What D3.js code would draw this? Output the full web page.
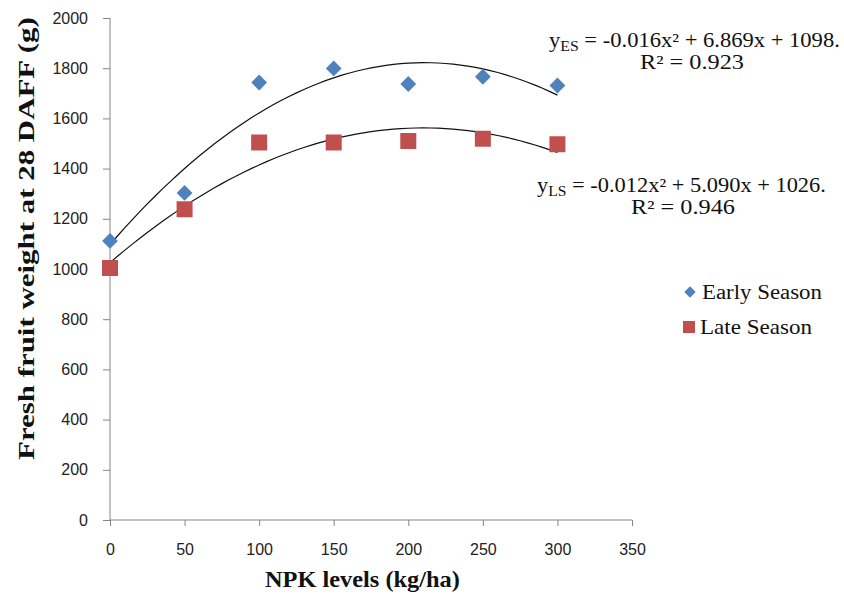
<!DOCTYPE html>
<html>
<head>
<meta charset="utf-8">
<script src="https://cdn.jsdelivr.net/npm/d3@7"></script>
<style>
  body { margin: 0; background: #fff; }
  .tick text { font-family: "Liberation Sans", Arial, sans-serif; font-size: 16px; fill: #222; }
  .axis path, .axis line { stroke: #868686; }
  .serif { font-family: "Liberation Serif", "Times New Roman", serif; fill: #111; }
</style>
</head>
<body>
<script>
'use strict'

var npkLevels = [0, 50, 100, 150, 200, 250, 300]
var earlySeason = [1112, 1303, 1743, 1799, 1737, 1766, 1731]
var lateSeason = [1004, 1238, 1504, 1504, 1510, 1519, 1497]
var xTicks = [0, 50, 100, 150, 200, 250, 300, 350]
var yTicks = [0, 200, 400, 600, 800, 1000, 1200, 1400, 1600, 1800, 2000]

var width = 844
var height = 600

var svg = d3.select('body').append('svg')
  .attr('width', width)
  .attr('height', height)

var x = d3.scaleLinear().domain([0, 350]).range([110, 632])
var y = d3.scaleLinear().domain([0, 2000]).range([520, 18])

svg.append('g')
  .attr('class', 'axis')
  .attr('transform', 'translate(0,' + y(0) + ')')
  .call(d3.axisBottom(x).tickValues(xTicks).tickFormat(d3.format('d')).tickSize(6).tickPadding(18))
  .call(function (g) { g.select('.domain').attr('d', 'M' + x(0) + ',0H' + x(350)) })

svg.append('g')
  .attr('class', 'axis')
  .attr('transform', 'translate(' + x(0) + ',0)')
  .call(d3.axisLeft(y).tickValues(yTicks).tickFormat(d3.format('d')).tickSize(7).tickPadding(15))
  .call(function (g) { g.select('.domain').attr('d', 'M0,' + y(0) + 'V' + y(2000)) })

// least squares quadratic, like the spreadsheet trendline
function quadFit (xs, ys) {
  var s = [0, 0, 0, 0, 0]
  var t = [0, 0, 0]
  for (var i = 0; i < xs.length; i++) {
    for (var k = 0; k < 5; k++) s[k] += Math.pow(xs[i], k)
    for (var j = 0; j < 3; j++) t[j] += ys[i] * Math.pow(xs[i], j)
  }
  var m = [
    [s[0], s[1], s[2], t[0]],
    [s[1], s[2], s[3], t[1]],
    [s[2], s[3], s[4], t[2]]
  ]
  for (var c = 0; c < 3; c++) {
    for (var r = c + 1; r < 3; r++) {
      var f = m[r][c] / m[c][c]
      for (var q = c; q < 4; q++) m[r][q] -= f * m[c][q]
    }
  }
  var coef = [0, 0, 0]
  for (var r2 = 2; r2 >= 0; r2--) {
    var v = m[r2][3]
    for (var q2 = r2 + 1; q2 < 3; q2++) v -= m[r2][q2] * coef[q2]
    coef[r2] = v / m[r2][r2]
  }
  return function (xv) { return coef[0] + coef[1] * xv + coef[2] * xv * xv }
}

var line = d3.line()
  .x(function (d) { return x(d[0]) })
  .y(function (d) { return y(d[1]) })

;[earlySeason, lateSeason].forEach(function (series) {
  var fit = quadFit(npkLevels, series)
  var pts = d3.range(0, 301, 5).map(function (v) { return [v, fit(v)] })
  svg.append('path')
    .attr('d', line(pts))
    .attr('fill', 'none')
    .attr('stroke', '#111')
    .attr('stroke-width', 1.2)
})

svg.append('g').selectAll('path')
  .data(npkLevels)
  .enter().append('path')
  .attr('d', d3.symbol().type(d3.symbolSquare).size(125))
  .attr('transform', function (d, i) { return 'translate(' + x(d) + ',' + y(earlySeason[i]) + ') rotate(45)' })
  .attr('fill', '#4F81BD')

svg.append('g').selectAll('rect')
  .data(npkLevels)
  .enter().append('rect')
  .attr('x', function (d) { return x(d) - 8 })
  .attr('y', function (d, i) { return y(lateSeason[i]) - 8 })
  .attr('width', 16)
  .attr('height', 16)
  .attr('fill', '#C0504D')

// the source picture is stretched sideways, so widen text to a set width
function stretch (t, left, w) {
  var box = t.node().getBBox()
  var sx = w / box.width
  t.attr('transform', 'translate(' + left + ',0) scale(' + sx + ',1) translate(' + (-box.x) + ',0)')
}

function label (txt, size, left, w, base, weight) {
  var t = svg.append('text').attr('class', 'serif').attr('y', base)
    .attr('font-size', size).attr('font-weight', weight || 'normal').text(txt)
  stretch(t, left, w)
  return t
}

function equation (left, w, base, sub, rest, r2, r2left, r2w) {
  var t = svg.append('text').attr('class', 'serif').attr('y', base).attr('font-size', 20)
  t.append('tspan').text('y')
  t.append('tspan').attr('font-size', 14).attr('dy', 4).text(sub)
  t.append('tspan').attr('dy', -4).text(rest)
  stretch(t, left, w)
  label(r2, 20, r2left, r2w, base + 22)
}
equation(549, 291, 47, 'ES', ' = -0.016x² + 6.869x + 1098.', 'R² = 0.923', 640, 104)
equation(537, 289, 192, 'LS', ' = -0.012x² + 5.090x + 1026.', 'R² = 0.946', 631, 104)

// legend
svg.append('path')
  .attr('d', d3.symbol().type(d3.symbolSquare).size(64))
  .attr('transform', 'translate(690,292) rotate(45)')
  .attr('fill', '#4F81BD')
label('Early Season', 20, 702, 120, 299)
svg.append('rect').attr('x', 683).attr('y', 321).attr('width', 12).attr('height', 12)
  .attr('fill', '#C0504D')
label('Late Season', 20, 700, 112, 334)

// axis titles
label('NPK levels (kg/ha)', 23, 265, 195, 587, 'bold')

var yt = svg.append('text').attr('class', 'serif')
  .attr('font-size', 23).attr('font-weight', 'bold')
  .text('Fresh fruit weight at 28 DAFF (g)')
var yb = yt.node().getBBox()
yt.attr('transform', 'translate(34,460) rotate(-90) scale(' + (443 / yb.width) + ',1) translate(' + (-yb.x) + ',0)')
</script>
</body>
</html>
